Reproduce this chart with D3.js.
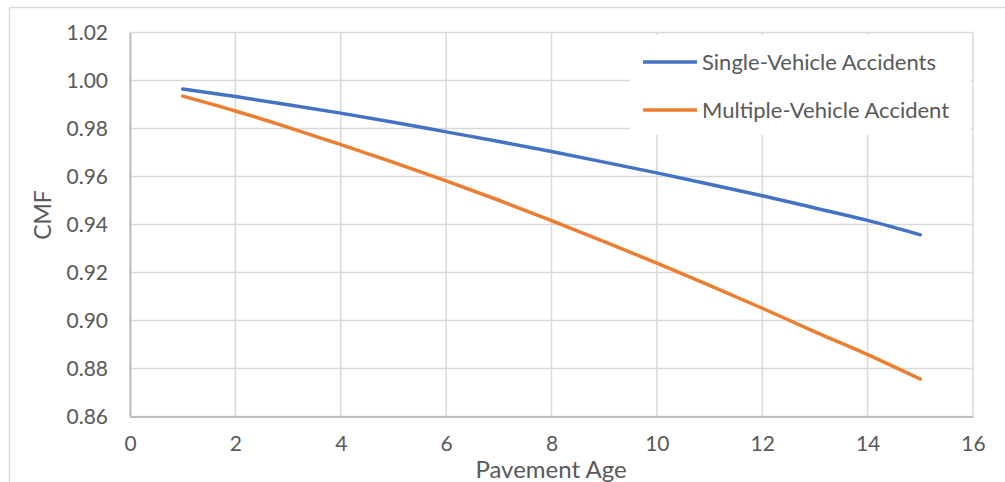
<!DOCTYPE html>
<html><head><meta charset="utf-8">
<script src="https://cdn.jsdelivr.net/npm/d3@7"></script>
<style>body{margin:0;background:#fff}svg{display:block}text{font-family:Lato,"Open Sans",sans-serif;fill:#595959}</style>
</head><body>
<script>
const ages = [1,2,3,4,5,6,7,8,9,10,11,12,13,14,15];
const singleVehicle = [0.9965,0.9933,0.9899,0.9864,0.9826,0.9786,0.9746,0.9704,0.9660,0.9615,0.9568,0.9520,0.9469,0.9417,0.9357];
const multipleVehicle = [0.9935,0.9873,0.9805,0.9733,0.9659,0.9582,0.9501,0.9416,0.9329,0.9239,0.9146,0.9051,0.8953,0.8858,0.8756];
const seriesNames = ["Single-Vehicle Accidents","Multiple-Vehicle Accident"];
const seriesColors = ["#4472C4","#ED7D31"];
const xTicks = [0,2,4,6,8,10,12,14,16];
const yTicks = [0.86,0.88,0.90,0.92,0.94,0.96,0.98,1.00,1.02];

const W=1005,H=482;
const svg=d3.select("body").append("svg").attr("width",W).attr("height",H);
svg.append("rect").attr("x",9.5).attr("y",7.5).attr("width",1010).attr("height",500).attr("fill","#fff").attr("stroke","#d9d9d9").attr("stroke-width",1.5);

const x=d3.scaleLinear().domain([0,16]).range([130,973]);
const y=d3.scaleLinear().domain([0.86,1.02]).range([416.5,32.5]);

const g=svg.append("g");
g.selectAll(".hg").data(yTicks).join("line").attr("x1",x(0)).attr("x2",x(16)).attr("y1",d=>y(d)).attr("y2",d=>y(d)).attr("stroke","#d9d9d9").attr("stroke-width",1.5);
g.selectAll(".vg").data(xTicks).join("line").attr("y1",y(0.86)).attr("y2",y(1.02)).attr("x1",d=>x(d)).attr("x2",d=>x(d)).attr("stroke","#d9d9d9").attr("stroke-width",1.5);

const xa=svg.append("g").attr("transform",`translate(0,${y(0.86)})`).call(d3.axisBottom(x).tickValues(xTicks).tickSize(0).tickPadding(20).tickFormat(d3.format("d")));
xa.select(".domain").attr("stroke","#bfbfbf").attr("stroke-width",2);
xa.selectAll("text").attr("font-size",21).style("fill","#595959").attr("font-family","Lato");
const ya=svg.append("g").attr("transform",`translate(${x(0)},0)`).call(d3.axisLeft(y).tickValues(yTicks).tickSize(0).tickPadding(22).tickFormat(d3.format(".2f")));
ya.select(".domain").attr("stroke","#bfbfbf").attr("stroke-width",2);
ya.selectAll("text").attr("font-size",21).style("fill","#595959").attr("font-family","Lato");

const line=d3.line().x((d,i)=>x(ages[i])).y(d=>y(d)).curve(d3.curveMonotoneX);
[singleVehicle,multipleVehicle].forEach((s,i)=>{
  svg.append("path").datum(s).attr("d",line).attr("fill","none").attr("stroke",seriesColors[i]).attr("stroke-width",3.5).attr("stroke-linecap","round");
});

const lg=svg.append("g");
lg.append("rect").attr("x",630).attr("y",35).attr("width",341).attr("height",100).attr("fill","#fff");
seriesNames.forEach((n,i)=>{
  const ly=62+i*48;
  lg.append("line").attr("x1",643).attr("x2",697).attr("y1",ly).attr("y2",ly).attr("stroke",seriesColors[i]).attr("stroke-width",3.5);
  lg.append("text").attr("x",702).attr("y",ly).attr("dy","0.35em").attr("font-size",22).text(n);
});

svg.append("text").attr("x",551).attr("y",478).attr("text-anchor","middle").attr("font-size",24).text("Pavement Age");
svg.append("text").attr("transform","translate(51,215) rotate(-90)").attr("text-anchor","middle").attr("font-size",23).text("CMF");
</script>
</body></html>
